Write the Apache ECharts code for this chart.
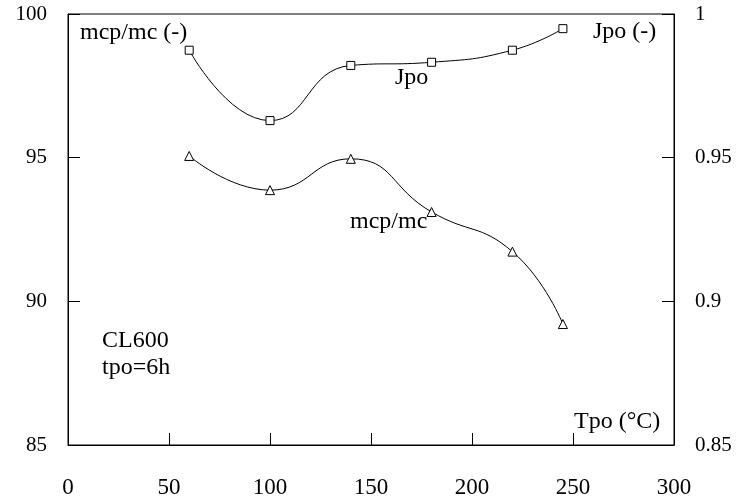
<!DOCTYPE html>
<html>
<head>
<meta charset="utf-8">
<script src="https://cdn.jsdelivr.net/npm/echarts@6/dist/echarts.min.js"></script>
<style>
  html, body { margin: 0; padding: 0; background: #fff; }
  #chart { width: 740px; height: 499px; }
</style>
</head>
<body>
<div id="chart"></div>
<script>
  // temperature of post-oxidation, degC
  const tpo = [60, 100, 140, 180, 220, 245];
  // Jpo (-), right axis
  const jpo = [0.9874, 0.9629, 0.9821, 0.9832, 0.9874, 0.9949];
  // mcp/mc (-), left axis
  const mcpmc = [95.06, 93.87, 94.96, 93.11, 91.73, 89.21];

  const leftTicks = [85, 90, 95, 100];
  const rightTicks = [0.85, 0.9, 0.95, 1];

  const font = '"Liberation Serif", "DejaVu Serif", serif';

  const pairs = (xs, ys) => xs.map((x, i) => [x, ys[i]]);

  // free text in the plot
  const note = (text, x, y) => ({
    type: 'text', x: x, y: y,
    style: { text: text, font: '24px ' + font, fill: '#000' }
  });

  const chart = echarts.init(document.getElementById('chart'));
  chart.setOption({
    animation: false,
    grid: {
      left: 68, right: 66, top: 14, bottom: 54,
      show: true, borderColor: '#000', borderWidth: 1
    },
    xAxis: {
      type: 'value', min: 0, max: 300, interval: 50,
      axisLine: { lineStyle: { color: '#000', width: 1 } },
      axisTick: { inside: true, length: 12, lineStyle: { color: '#000' } },
      axisLabel: { color: '#000', fontFamily: font, fontSize: 23, margin: 31 },
      splitLine: { show: false }
    },
    yAxis: [{
      type: 'value', min: leftTicks[0], max: leftTicks[leftTicks.length - 1], interval: 5,
      axisLine: { show: true, lineStyle: { color: '#000' } },
      axisTick: { show: true, inside: true, length: 12, lineStyle: { color: '#000' } },
      axisLabel: { color: '#000', fontFamily: font, fontSize: 21, margin: 21,
        padding: [12, 0, 0, 0] },
      splitLine: { show: false }
    }, {
      type: 'value', min: rightTicks[0], max: rightTicks[rightTicks.length - 1], interval: 0.05,
      position: 'right',
      axisLine: { show: true, lineStyle: { color: '#000' } },
      axisTick: { show: true, inside: true, length: 12, lineStyle: { color: '#000' } },
      axisLabel: { color: '#000', fontFamily: font, fontSize: 21, margin: 21,
        padding: [8, 0, 0, 0],
        formatter: v => String(+v.toFixed(2)) },
      splitLine: { show: false }
    }],
    series: [{
      name: 'Jpo', type: 'line', yAxisIndex: 1, smooth: 0.5,
      data: pairs(tpo, jpo),
      symbol: 'rect', symbolSize: 8,
      itemStyle: { color: '#fff', borderColor: '#000', borderWidth: 1 },
      lineStyle: { color: '#000', width: 1 }
    }, {
      name: 'mcp/mc', type: 'line', yAxisIndex: 0, smooth: 0.5,
      data: pairs(tpo, mcpmc),
      symbol: 'triangle', symbolSize: 9,
      itemStyle: { color: '#fff', borderColor: '#000', borderWidth: 1 },
      lineStyle: { color: '#000', width: 1 }
    }],
    graphic: [
      note('mcp/mc (-)', 80, 21),
      note('Jpo (-)', 593, 20),
      note('Jpo', 395, 66),
      note('mcp/mc', 350, 210),
      note('CL600', 102, 329),
      note('tpo=6h', 102, 356),
      note('Tpo (°C)', 574, 410)
    ]
  });
</script>
</body>
</html>
